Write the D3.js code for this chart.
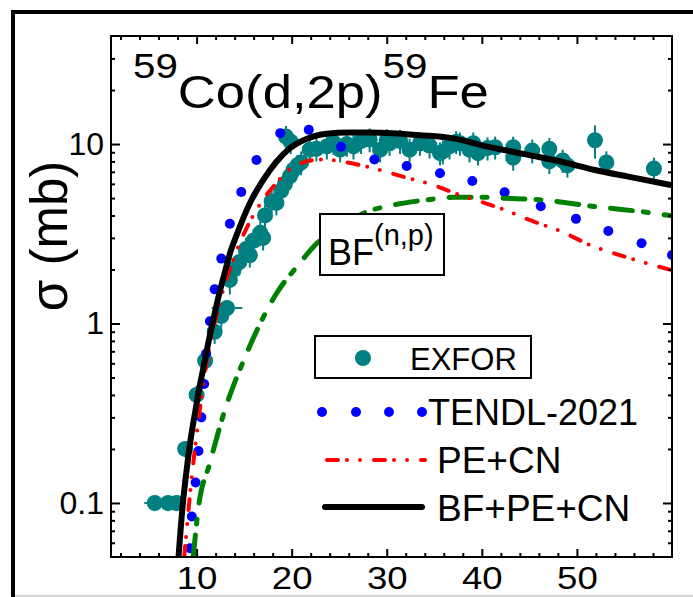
<!DOCTYPE html>
<html>
<head>
<meta charset="utf-8">
<script src="https://cdn.jsdelivr.net/npm/d3@7"></script>
<style>
  body { margin: 0; background: #fff; }
  text { font-family: "Liberation Sans", Arial, sans-serif; fill: #000; }
</style>
</head>
<body>
<svg class="chart"></svg>
<script>
// EXFOR: [E (MeV), sigma (mb), dSigma, dE]
var exfor = [
  [5.6,0.10,0.01,1.1],[7.0,0.10,0.01,0],[7.9,0.10,0.01,0],
  [8.8,0.20,0.02,0],[10.0,0.40,0.05,0],[10.9,0.62,0.09,0],[11.9,0.90,0.13,0],
  [12.6,1.10,0.15,0],[13.2,1.22,0.1,1.6],[13.5,1.75,0.3,0],[13.9,2.0,0.3,0],
  [14.5,2.2,0.35,0],[15.2,2.6,0.4,0],[15.6,2.4,0.35,0],[16.0,2.9,0.45,0],
  [16.7,3.2,0.5,0],[17.0,3.0,0.45,0],[17.2,4.0,0.6,0],[17.9,4.8,0.7,0],
  [18.4,4.7,0.7,0],[18.9,5.5,0.8,0],[19.3,6.0,0.9,0],[19.8,6.6,1.0,0],
  [20.2,7.2,1.1,0],[20.6,7.6,1.1,0],[21.0,7.9,1.2,0],[19.4,11.0,1.6,0],
  [19.9,10.3,1.5,0],[21.9,9.3,1.4,0],[22.6,9.4,1.4,0],[23.7,9.7,1.5,0],
  [24.4,10.2,1.5,0],[25.1,9.3,1.4,0],[25.8,10.0,1.5,0],[26.5,9.7,1.5,0],
  [27.3,10.4,1.6,0],[28.2,10.6,1.6,0],[29.3,9.3,1.4,0],[30.0,10.5,1.6,0],
  [30.3,10.1,1.5,0],[31.4,10.4,1.6,0],[32.4,9.3,1.4,0],[33.5,10.1,1.5,0],
  [34.5,9.8,1.5,0],[35.6,8.9,1.3,0],[35.9,9.1,1.4,0],[36.6,9.7,1.5,0],
  [37.3,10.3,1.5,0],[37.7,10.1,1.5,0],[38.7,9.3,1.4,0],[39.1,10.1,1.5,0],
  [39.6,8.9,1.3,0],[40.6,9.5,1.4,0],[41.4,9.6,1.4,0],[43.3,9.6,1.4,0],
  [43.3,8.4,1.3,0],[45.3,9.2,1.4,0],[47.1,9.4,1.4,0],[47.1,8.0,1.2,0],
  [48.5,8.1,1.2,0],[49.0,7.6,1.1,0],[51.9,10.5,2.2,0],[53.1,7.9,1.2,0],
  [58.1,7.3,1.1,0]
];

// TENDL-2021: [E, sigma]
var tendl = [
  [9.3,0.056],[9.5,0.084],[9.9,0.13],[10.2,0.195],[10.5,0.30],[10.8,0.46],
  [11.0,0.68],[11.4,1.03],[11.9,1.55],[12.6,2.3],[13.5,3.6],[14.7,5.4],
  [16.3,8.15],[18.8,11.5],[21.8,12.0],[25.2,9.66],[28.7,8.2],[32.1,7.55],
  [35.6,6.87],[39.0,6.22],[42.4,5.38],[46.2,4.5],[49.9,3.83],[53.3,3.28],
  [56.8,2.8],[60.0,2.41]
];

// PE+CN
var peCN = [
  [8.7,0.05],[9.0,0.075],[9.5,0.14],[10.0,0.24],[10.5,0.38],[11.0,0.58],
  [11.6,0.85],[12.5,1.35],[13.85,2.26],[15.26,3.4],[16.3,4.3],[17.0,4.92],
  [18.2,5.9],[19.46,7.0],[20.5,7.6],[22.3,8.15],[23.5,8.2],[25.4,7.97],
  [28.57,7.33],[31.7,6.58],[34.87,5.91],[37.7,5.2],[40.8,4.6],[42.4,4.3],
  [44.86,3.8],[48.4,3.25],[51.5,2.72],[55.0,2.36],[60.0,1.98]
];

// BF (n,p)
var bf = [
  [9.65,0.05],[10.17,0.092],[11.4,0.167],[12.9,0.32],[15.26,0.68],[18.4,1.47],
  [20.86,2.17],[22.3,2.68],[25.0,3.45],[28.2,4.25],[30.0,4.5],[34.2,4.88],
  [37.0,5.05],[40.1,5.05],[42.4,4.99],[46.3,4.88],[51.9,4.48],[58.2,4.11],[60.0,3.98]
];

// BF+PE+CN
var total = [
  [8.1,0.05],[8.5,0.092],[9.0,0.16],[9.5,0.25],[9.85,0.32],[10.3,0.44],
  [10.7,0.56],[11.1,0.72],[11.6,0.96],[12.5,1.55],[13.0,1.95],[13.5,2.45],
  [14.2,3.1],[15.6,4.68],[17.0,6.3],[18.4,7.97],[19.8,9.47],[21.6,10.7],
  [23.7,11.4],[26.0,11.6],[28.0,11.6],[31.0,11.45],[33.5,11.2],[37.0,10.75],
  [40.5,9.7],[44.9,8.7],[48.4,7.97],[51.9,7.17],[55.4,6.58],[60.0,5.9]
];

var xMajor = [10,20,30,40,50];
var xMinor = [2,4,6,8,12,14,16,18,22,24,26,28,32,34,36,38,42,44,46,48,52,54,56,58];
var yMajor = [0.1,1,10];
var yMinor = [0.06,0.07,0.08,0.09,0.2,0.3,0.4,0.5,0.6,0.7,0.8,0.9,2,3,4,5,6,7,8,9,20,30];

var svg = d3.select(".chart").attr("width", 693).attr("height", 597);

var pLeft = 111, pRight = 672, pTop = 36, pBottom = 557;
var x = d3.scaleLinear().domain([1, 60]).range([pLeft, pRight]);
var y = d3.scaleLog().domain([0.05, 40]).range([pBottom, pTop]);

// outer frame (cut at right)
svg.append("line").attr("x1", 13).attr("x2", 693).attr("y1", 12).attr("y2", 12)
  .attr("stroke", "black").attr("stroke-width", 4);
svg.append("line").attr("x1", 13).attr("x2", 13).attr("y1", 10).attr("y2", 597)
  .attr("stroke", "black").attr("stroke-width", 4);
svg.append("line").attr("x1", 15).attr("x2", 693).attr("y1", 596).attr("y2", 596)
  .attr("stroke", "#c8c8c8").attr("stroke-width", 1.5);

svg.append("clipPath").attr("id", "clip").append("rect")
  .attr("x", pLeft).attr("y", pTop).attr("width", pRight - pLeft).attr("height", pBottom - pTop);

var plot = svg.append("g").attr("clip-path", "url(#clip)");

// EXFOR points
var ex = plot.append("g").attr("class", "exfor");
ex.selectAll(".ebar").data(exfor).enter().append("line")
  .attr("class", "ebar")
  .attr("x1", function(d) { return x(d[0]); })
  .attr("x2", function(d) { return x(d[0]); })
  .attr("y1", function(d) { return y(d[1] + d[2]); })
  .attr("y2", function(d) { return y(Math.max(d[1] - d[2], 0.01)); })
  .attr("stroke", "#008080").attr("stroke-width", 2);
ex.selectAll(".xbar").data(exfor.filter(function(d) { return d[3] > 0; })).enter().append("line")
  .attr("class", "xbar")
  .attr("x1", function(d) { return x(d[0] - d[3]); })
  .attr("x2", function(d) { return x(d[0] + d[3]); })
  .attr("y1", function(d) { return y(d[1]); })
  .attr("y2", function(d) { return y(d[1]); })
  .attr("stroke", "#008080").attr("stroke-width", 2);
ex.selectAll("circle").data(exfor).enter().append("circle")
  .attr("cx", function(d) { return x(d[0]); })
  .attr("cy", function(d) { return y(d[1]); })
  .attr("r", 8)
  .attr("fill", "#008080");

// TENDL dots
plot.append("g").selectAll("circle").data(tendl).enter().append("circle")
  .attr("cx", function(d) { return x(d[0]); })
  .attr("cy", function(d) { return y(d[1]); })
  .attr("r", 5)
  .attr("fill", "#0000ff");

var line = d3.line()
  .x(function(d) { return x(d[0]); })
  .y(function(d) { return y(d[1]); })
  .curve(d3.curveMonotoneX);

plot.append("path").datum(bf)
  .attr("d", line)
  .attr("fill", "none")
  .attr("stroke", "#008000")
  .attr("stroke-width", 5)
  .attr("stroke-linecap", "round")
  .attr("stroke-dasharray", "22,11,5,16");

plot.append("path").datum(peCN)
  .attr("d", line)
  .attr("fill", "none")
  .attr("stroke", "#ff0000")
  .attr("stroke-width", 4)
  .attr("stroke-linecap", "round")
  .attr("stroke-dasharray", "11,9,0,13,0,14");

plot.append("path").datum(total)
  .attr("d", line)
  .attr("fill", "none")
  .attr("stroke", "black")
  .attr("stroke-width", 6);

// axes
function styleAxis(g) {
  g.select(".domain").remove();
  g.selectAll("line").attr("stroke", "black").attr("stroke-width", 2);
  g.selectAll("text").attr("fill", "black")
    .attr("font-family", "Liberation Sans, Arial, sans-serif");
}

svg.append("g").attr("transform", "translate(0," + pBottom + ")")
  .call(d3.axisBottom(x).tickValues(xMinor).tickSize(-4).tickFormat(""))
  .call(styleAxis);
svg.append("g").attr("transform", "translate(0," + pBottom + ")")
  .call(d3.axisBottom(x).tickValues(xMajor).tickSize(-8).tickPadding(10).tickFormat(d3.format("d")))
  .call(styleAxis)
  .selectAll("text").attr("font-size", 31).attr("dy", "0.71em")
  .attr("transform", "scale(1.18,1)");
svg.append("g").attr("transform", "translate(0," + pTop + ")")
  .call(d3.axisTop(x).tickValues(xMinor).tickSize(-4).tickFormat(""))
  .call(styleAxis);
svg.append("g").attr("transform", "translate(0," + pTop + ")")
  .call(d3.axisTop(x).tickValues(xMajor).tickSize(-8).tickFormat(""))
  .call(styleAxis);

svg.append("g").attr("transform", "translate(" + pLeft + ",0)")
  .call(d3.axisLeft(y).tickValues(yMinor).tickSize(-4).tickFormat(""))
  .call(styleAxis);
svg.append("g").attr("transform", "translate(" + pLeft + ",0)")
  .call(d3.axisLeft(y).tickValues(yMajor).tickSize(-9).tickPadding(7).tickFormat(function(d) { return d < 1 ? d3.format(".1f")(d) : d3.format("d")(d); }))
  .call(styleAxis)
  .selectAll("text").attr("font-size", 32);
svg.append("g").attr("transform", "translate(" + pRight + ",0)")
  .call(d3.axisRight(y).tickValues(yMinor).tickSize(-4).tickFormat(""))
  .call(styleAxis);
svg.append("g").attr("transform", "translate(" + pRight + ",0)")
  .call(d3.axisRight(y).tickValues(yMajor).tickSize(-9).tickFormat(""))
  .call(styleAxis);

svg.append("rect")
  .attr("x", pLeft).attr("y", pTop)
  .attr("width", pRight - pLeft).attr("height", pBottom - pTop)
  .attr("fill", "none").attr("stroke", "black").attr("stroke-width", 2);

// y title
svg.append("text")
  .attr("transform", "translate(67,236) rotate(-90)")
  .attr("text-anchor", "middle")
  .attr("font-size", 51)
  .text("σ (mb)");

// title
var title = svg.append("text")
  .attr("transform", "translate(133,108) scale(1.12,1)")
  .attr("font-size", 47);
title.append("tspan").attr("font-size", 36).attr("dy", -30).text("59");
title.append("tspan").attr("dy", 30).text("Co(d,2p)");
title.append("tspan").attr("font-size", 36).attr("dy", -30).text("59");
title.append("tspan").attr("dy", 30).text("Fe");

// BF(n,p) label box
svg.append("rect")
  .attr("x", 320).attr("y", 214).attr("width", 124).attr("height", 61)
  .attr("fill", "white").attr("stroke", "black").attr("stroke-width", 2);
var bfText = svg.append("text").attr("x", 328).attr("y", 265).attr("font-size", 36);
bfText.append("tspan").text("BF");
bfText.append("tspan").attr("font-size", 29).attr("dy", -20).text("(n,p)");

// legend
svg.append("rect")
  .attr("x", 315).attr("y", 336).attr("width", 216).attr("height", 42)
  .attr("fill", "white").attr("stroke", "black").attr("stroke-width", 2);
svg.append("circle").attr("cx", 363).attr("cy", 358).attr("r", 8).attr("fill", "#008080");
svg.append("text").attr("x", 410).attr("y", 370).attr("font-size", 31).text("EXFOR");

var legendDots = [322, 356, 389, 422];
svg.append("g").selectAll("circle").data(legendDots).enter().append("circle")
  .attr("cx", function(d) { return d; })
  .attr("cy", 412)
  .attr("r", 5)
  .attr("fill", "#0000ff");
svg.append("text").attr("x", 428).attr("y", 425).attr("font-size", 36).text("TENDL-2021");

svg.append("line").attr("x1", 327).attr("x2", 425).attr("y1", 460).attr("y2", 460)
  .attr("stroke", "#ff0000").attr("stroke-width", 4)
  .attr("stroke-linecap", "round")
  .attr("stroke-dasharray", "11,9,0,13,0,14");
svg.append("text").attr("x", 437).attr("y", 473).attr("font-size", 37).text("PE+CN");

svg.append("line").attr("x1", 325).attr("x2", 422).attr("y1", 507).attr("y2", 507)
  .attr("stroke", "black").attr("stroke-width", 6)
  .attr("stroke-linecap", "round");
svg.append("text").attr("x", 437).attr("y", 521).attr("font-size", 37).text("BF+PE+CN");
</script>
</body>
</html>
